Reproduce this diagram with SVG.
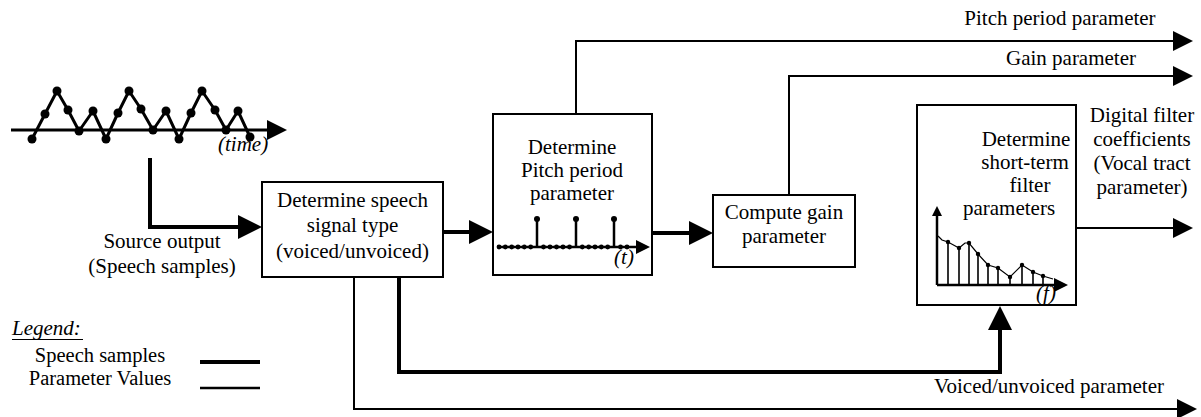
<svg xmlns="http://www.w3.org/2000/svg" width="1201" height="417" viewBox="0 0 1201 417" font-family="'Liberation Serif', 'Times New Roman', 'DejaVu Serif', serif">
  <style>
    text { font-family: 'Liberation Serif', 'Times New Roman', 'DejaVu Serif', serif; font-size: 21px; fill: #000; }
    .mid { text-anchor: middle; }
    .it { font-style: italic; }
    .legend-text { font-size: 20.5px; }
    .box { fill: #fff; stroke: #000; stroke-width: 2; }
    .thick { fill: none; stroke: #000; stroke-width: 4; }
    .thin { fill: none; stroke: #000; stroke-width: 2; }
    .plot { fill: none; stroke: #000; stroke-width: 2.5; }
    .stem { fill: none; stroke: #000; stroke-width: 1.6; }
    .curve { fill: none; stroke: #000; stroke-width: 1.2; }
    .dot { fill: #000; }
  </style>
  <defs>
    <!-- arrowheads start where the line ends (refX=0), drawn in user units -->
    <marker id="head-lg" markerUnits="userSpaceOnUse" markerWidth="24" markerHeight="24" viewBox="0 0 24 24" refX="0" refY="12" orient="auto">
      <path d="M0,0 L24,12 L0,24 z" fill="#000"/>
    </marker>
    <marker id="head-sm" markerUnits="userSpaceOnUse" markerWidth="20" markerHeight="20" viewBox="0 0 20 20" refX="0" refY="10" orient="auto">
      <path d="M0,0 L20,10 L0,20 z" fill="#000"/>
    </marker>
    <marker id="head-xs" markerUnits="userSpaceOnUse" markerWidth="14" markerHeight="14" viewBox="0 0 14 14" refX="0" refY="7" orient="auto">
      <path d="M0,0 L14,7 L0,14 z" fill="#000"/>
    </marker>
    <marker id="head-tiny" markerUnits="userSpaceOnUse" markerWidth="10" markerHeight="10" viewBox="0 0 10 10" refX="0" refY="5" orient="auto">
      <path d="M0,0 L10,5 L0,10 z" fill="#000"/>
    </marker>
  </defs>

  <!-- source speech waveform -->
  <g id="source-waveform">
    <path d="M11,130 H267" fill="none" stroke="#000" stroke-width="3" marker-end="url(#head-sm)"/>
    <polyline fill="none" stroke="#000" stroke-width="3" stroke-linejoin="round"
      points="32,139 45,114 57,91 68,110 79,131 93,111 106,139 118,113 129,91 141,109 153,130 166,111 179,139 191,113 202,91 215,110 226,130 238,111 250,137"/>
    <g class="dot">
      <circle cx="32" cy="139" r="4.5"/><circle cx="45" cy="114" r="4.5"/><circle cx="57" cy="91" r="4.5"/>
      <circle cx="68" cy="110" r="4.5"/><circle cx="79" cy="131" r="4.5"/><circle cx="93" cy="111" r="4.5"/>
      <circle cx="106" cy="139" r="4.5"/><circle cx="118" cy="113" r="4.5"/><circle cx="129" cy="91" r="4.5"/>
      <circle cx="141" cy="109" r="4.5"/><circle cx="153" cy="130" r="4.5"/><circle cx="166" cy="111" r="4.5"/>
      <circle cx="179" cy="139" r="4.5"/><circle cx="191" cy="113" r="4.5"/><circle cx="202" cy="91" r="4.5"/>
      <circle cx="215" cy="110" r="4.5"/><circle cx="226" cy="130" r="4.5"/><circle cx="238" cy="111" r="4.5"/>
      <circle cx="250" cy="137" r="4.5"/>
    </g>
    <text class="it" x="218" y="151">(time)</text>
    <text class="mid" x="162" y="248">Source output</text>
    <text class="mid" x="162" y="273">(Speech samples)</text>
  </g>

  <!-- connectors -->
  <g id="connectors">
    <path class="thick" d="M150,158 V227 H238" marker-end="url(#head-lg)"/>
    <path class="thick" d="M443,232 H469" marker-end="url(#head-lg)"/>
    <path class="thick" d="M652,233 H689" marker-end="url(#head-lg)"/>
    <path class="thin" d="M576,114 V41 H1173" marker-end="url(#head-sm)"/>
    <path class="thin" d="M789,195 V76 H1173" marker-end="url(#head-sm)"/>
    <path class="thin" d="M1076,228 H1173" marker-end="url(#head-sm)"/>
    <path class="thick" d="M399,277 V372 H1000 V330" marker-end="url(#head-lg)"/>
    <path class="thin" d="M354,277 V409 H1177" marker-end="url(#head-sm)"/>
  </g>

  <!-- speech signal type -->
  <g id="signal-type">
    <rect class="box" x="262" y="182" width="181" height="95"/>
    <text class="mid" x="352.5" y="207">Determine speech</text>
    <text class="mid" x="352.5" y="232">signal type</text>
    <text class="mid" x="352.5" y="258">(voiced/unvoiced)</text>
  </g>

  <!-- pitch period -->
  <g id="pitch-period">
    <rect class="box" x="493" y="114" width="159" height="161"/>
    <text class="mid" x="572" y="154">Determine</text>
    <text class="mid" x="572" y="177">Pitch period</text>
    <text class="mid" x="572" y="200">parameter</text>
    <path class="plot" d="M498,247 H636" marker-end="url(#head-xs)"/>
    <path class="plot" d="M537,247 V219 M576,247 V219 M614,247 V219"/>
    <g class="dot">
      <circle cx="537" cy="219" r="3"/><circle cx="576" cy="219" r="3"/><circle cx="614" cy="219" r="3"/>
      <circle cx="499" cy="247" r="2.4"/><circle cx="505.3" cy="247" r="2.4"/><circle cx="511.7" cy="247" r="2.4"/>
      <circle cx="518" cy="247" r="2.4"/><circle cx="524.3" cy="247" r="2.4"/><circle cx="530.7" cy="247" r="2.4"/>
      <circle cx="543.5" cy="247" r="2.4"/><circle cx="550" cy="247" r="2.4"/><circle cx="556.5" cy="247" r="2.4"/>
      <circle cx="563" cy="247" r="2.4"/><circle cx="569.5" cy="247" r="2.4"/>
      <circle cx="582.3" cy="247" r="2.4"/><circle cx="588.7" cy="247" r="2.4"/><circle cx="595" cy="247" r="2.4"/>
      <circle cx="601.3" cy="247" r="2.4"/><circle cx="607.7" cy="247" r="2.4"/>
      <circle cx="620.5" cy="247" r="2.4"/><circle cx="627" cy="247" r="2.4"/>
    </g>
    <text class="it mid" x="624" y="264">(t)</text>
  </g>

  <!-- gain -->
  <g id="gain">
    <rect class="box" x="713" y="195" width="142" height="72"/>
    <text class="mid" x="784" y="219">Compute gain</text>
    <text class="mid" x="784" y="243">parameter</text>
  </g>

  <!-- short-term filter -->
  <g id="short-term-filter">
    <rect class="box" x="917" y="105" width="159" height="200"/>
    <text class="mid" x="1026" y="146">Determine</text>
    <text class="mid" x="1025" y="169">short-term</text>
    <text class="mid" x="1030" y="192">filter</text>
    <text class="mid" x="1009" y="215">parameters</text>
    <path class="plot" d="M937,285 V216" marker-end="url(#head-tiny)"/>
    <path class="plot" d="M937,285 H1054" marker-end="url(#head-xs)"/>
    <path class="stem" d="M948,285 V242 M959,285 V248 M969,285 V243 M978,285 V254 M988,285 V265 M998,285 V268 M1010,285 V277 M1022,285 V265 M1033,285 V272 M1043,285 V276"/>
    <polyline class="curve" points="938,236 942,240 948,242 959,248 965,243 969,243 978,254 988,265 998,268 1010,277 1022,265 1033,272 1043,276 1053,279"/>
    <g class="dot">
      <circle cx="948" cy="242" r="2.2"/><circle cx="959" cy="248" r="2.2"/><circle cx="969" cy="243" r="2.2"/>
      <circle cx="978" cy="254" r="2.2"/><circle cx="988" cy="265" r="2.2"/><circle cx="998" cy="268" r="2.2"/>
      <circle cx="1010" cy="277" r="2.2"/><circle cx="1022" cy="265" r="2.2"/><circle cx="1033" cy="272" r="2.2"/>
      <circle cx="1043" cy="276" r="2.2"/>
    </g>
    <text class="it mid" x="1046" y="300">(f)</text>
  </g>

  <!-- output labels -->
  <g id="output-labels">
    <text class="mid" x="1060" y="25">Pitch period parameter</text>
    <text class="mid" x="1071" y="65">Gain parameter</text>
    <text class="mid" x="1142" y="122">Digital filter</text>
    <text class="mid" x="1142" y="146">coefficients</text>
    <text class="mid" x="1142" y="170">(Vocal tract</text>
    <text class="mid" x="1142" y="194">parameter)</text>
    <text class="mid" x="1049" y="393">Voiced/unvoiced parameter</text>
  </g>

  <!-- legend -->
  <g id="legend">
    <text class="it" x="12" y="335">Legend:</text>
    <path d="M12,339.5 H83" stroke="#000" stroke-width="1.2"/>
    <text class="mid legend-text" x="100" y="362">Speech samples</text>
    <text class="mid legend-text" x="100" y="385">Parameter Values</text>
    <path d="M200,362 H260" stroke="#000" stroke-width="4"/>
    <path d="M200,388 H260" stroke="#000" stroke-width="2.5"/>
  </g>
</svg>
